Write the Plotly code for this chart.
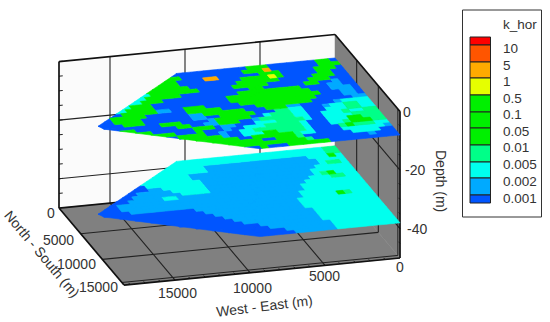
import numpy as np
import plotly.graph_objects as go

# ---- data -----------------------------------------------------------------
WE_TICKS = [0, 5000, 10000, 15000]
NS_TICKS = [0, 5000, 10000, 15000]
DEPTH_TICKS = [0, -20, -40]
WE_MINOR = list(range(1000, 18001, 1000))
DEPTH_MINOR = [-5, -10, -15, -25, -30, -35, -45]
WE_MAX, NS_MAX, DEPTH_MIN = 18400, 15000, -50
CELL_WE, CELL_NS = 460, 625
UPPER_DEPTH, LOWER_DEPTH = -8, -38
FOOT_NS = [0, 8400, 15000]
FOOT_WE = [10560, 18400, 9350]

LEVELS = ["0.001", "0.002", "0.005", "0.01", "0.05", "0.1", "0.5", "1", "5", "10"]
LEVEL_COLORS = ["#0055ff", "#00aaff", "#00ffee", "#00ff88", "#00f000", "#00f000",
                "#00f000", "#e6ff00", "#ffaa00", "#ff5500", "#ff0000"]

# class index per cell, one string per North-South row, West-East from 0
# 1 blue, 2 light blue, 3 cyan, 4 aqua, 5 green, 8 yellow, 9 orange
UPPER = [
    "155111111155511111111111",
    "5551111111955511111111155",
    "15551111155511111199111155",
    "115511111585555111111111555",
    "11555111115555551111111555555",
    "111555111111555551111155555553",
    "1121155111111551111111111555553",
    "11221111555555555111111111115553",
    "1222111555555555555111111111115553",
    "12211155555555555551111111111155553",
    "122111155555555555111115551122555551",
    "22111111555555551111155555111111555551",
    "333321111122555111555555221111111555511",
    "3344332111334411155555112211111115551111",
    "33443331113344431155555211115551111111",
    "443343331133444442115552211551111115",
    "4444333311344443331112215551111115",
    "44455333111344444333112111511155",
    "4455543311134444444331121155551",
    "33444541111344445533311255555",
    "233333311113345555551155555",
    "1133331111111455511555555",
    "11121111111145555555555",
    "111111111155555511151",
]
LOWER = [
    "443333333333333333333333",
    "4433333333333333333333333",
    "35333222222222222222333333",
    "333322222222222222223333333",
    "34432222222222222222222333333",
    "333332222222222222222223333333",
    "3333332222222222222222333333331",
    "33354322222222222222223333332211",
    "3344333222222222222222333332222211",
    "33333333222222222222223333222222211",
    "333333333222222222222222222332222211",
    "33333333322222222222222222222222222211",
    "333333333322222222222222222222222222111",
    "3334533333222222222222222222222222211111",
    "33333333333222222222222222111111111111",
    "333333333332222222222222211111111111",
    "3333333333322222222222221111111111",
    "33333333332222222222222111111111",
    "3333333333222222222222111111111",
    "33333333332222222222211111111",
    "333333333322222222211111111",
    "3333333332222222221111111",
    "33333333322222221111111",
    "333333333222222111111",
]
LEGEND_TOP_TO_BOTTOM = LEVEL_COLORS[::-1]


# ---- oblique projection of the box (data -> page pixels) -------------------
def px(we, ns, z):
    n = ns / NS_MAX - 1
    u = 400 - 0.015 * we + 65 * n
    v = 258 + 0.00147 * we + 77 * n - (z - DEPTH_MIN) * 2.93
    return u, v


def poly(points):
    xs, ys = [], []
    for p in points:
        u, v = px(*p)
        xs.append(u)
        ys.append(v)
    return xs, ys


fig = go.Figure()


def filled(points, color):
    xs, ys = poly(points)
    fig.add_trace(go.Scatter(x=xs + xs[:1], y=ys + ys[:1], mode="lines", fill="toself",
                             fillcolor=color, line=dict(color=color, width=0.5), hoverinfo="skip"))


def segments(segs, color, width):
    xs, ys = [], []
    for a, b in segs:
        xa, ya = px(*a)
        xb, yb = px(*b)
        xs += [xa, xb, None]
        ys += [ya, yb, None]
    fig.add_trace(go.Scatter(x=xs, y=ys, mode="lines", line=dict(color=color, width=width),
                             hoverinfo="skip"))


TOP = 0
# walls
filled([(WE_MAX, 0, DEPTH_MIN), (0, 0, DEPTH_MIN), (0, 0, TOP), (WE_MAX, 0, TOP)], "#fbfbfb")
filled([(0, 0, DEPTH_MIN), (0, NS_MAX, DEPTH_MIN), (0, NS_MAX, TOP), (0, 0, TOP)], "#808080")
filled([(WE_MAX, 0, DEPTH_MIN), (0, 0, DEPTH_MIN), (0, NS_MAX, DEPTH_MIN), (WE_MAX, NS_MAX, DEPTH_MIN)], "#808080")

grid = []
for w in WE_TICKS[1:]:
    grid.append(((w, 0, DEPTH_MIN), (w, 0, TOP)))
    grid.append(((w, 0, DEPTH_MIN), (w, NS_MAX, DEPTH_MIN)))
for n in NS_TICKS[1:3]:
    grid.append(((0, n, DEPTH_MIN), (0, n, TOP)))
    grid.append(((0, n, DEPTH_MIN), (WE_MAX, n, DEPTH_MIN)))
for d in DEPTH_TICKS[1:]:
    grid.append(((WE_MAX, 0, d), (0, 0, d)))
    grid.append(((0, 0, d), (0, NS_MAX, d)))
segments(grid, "#222222", 1.1)

ticks = [((WE_MAX, 14500, DEPTH_MIN), (0, 14500, DEPTH_MIN)),
         ((0, 14500, DEPTH_MIN), (0, 14500, TOP))]
for w in WE_MINOR:
    ticks.append(((w, NS_MAX, DEPTH_MIN), (w, NS_MAX - 300, DEPTH_MIN)))
for d in DEPTH_MINOR + DEPTH_TICKS:
    ticks.append(((WE_MAX, 0, d), (WE_MAX - 250, 0, d)))
    ticks.append(((0, NS_MAX, d), (0, NS_MAX - 300, d)))
segments(ticks, "#222222", 1)

segments([((WE_MAX, 0, TOP), (0, 0, TOP)), ((0, 0, TOP), (0, NS_MAX, TOP)),
          ((WE_MAX, 0, TOP), (WE_MAX, 0, DEPTH_MIN)),
          ((WE_MAX, 0, DEPTH_MIN), (WE_MAX, NS_MAX, DEPTH_MIN)),
          ((WE_MAX, NS_MAX, DEPTH_MIN), (0, NS_MAX, DEPTH_MIN)),
          ((WE_MAX, 0, DEPTH_MIN), (0, 0, DEPTH_MIN)),
          ((0, NS_MAX, DEPTH_MIN), (0, NS_MAX, TOP))], "#111111", 1.7)


def surface(rows, depth):
    for cls in sorted({c for r in rows for c in r}):
        xs, ys = [], []
        for j, row in enumerate(rows):
            n0, n1 = j * CELL_NS, (j + 1) * CELL_NS
            e0, e1 = np.interp([n0, n1], FOOT_NS, FOOT_WE)
            for i, c in enumerate(row):
                if c != cls:
                    continue
                w0 = i * CELL_WE
                # the outermost cell of a row ends on the survey outline
                a1 = e0 if i == len(row) - 1 else (i + 1) * CELL_WE
                b1 = e1 if i == len(row) - 1 else (i + 1) * CELL_WE
                a, b = poly([(w0, n0, depth), (a1, n0, depth), (b1, n1, depth), (w0, n1, depth)])
                xs += a + a[:1] + [None]
                ys += b + b[:1] + [None]
        col = LEVEL_COLORS[int(cls) - 1]
        fig.add_trace(go.Scatter(x=xs, y=ys, mode="lines", fill="toself", fillcolor=col,
                                 line=dict(color=col, width=0.6), hoverinfo="skip"))


surface(LOWER, LOWER_DEPTH)
surface(UPPER, UPPER_DEPTH)

TXT = "#333333"
FONT = "Liberation Sans"
ann = []


def label(x, y, text, size=14, angle=0, color=TXT):
    ann.append(dict(x=x, y=y, text=text, showarrow=False, textangle=angle, xref="x", yref="y",
                    font=dict(family=FONT, size=size, color=color), xanchor="center", yanchor="middle"))


for w, dx, dy in zip(WE_TICKS, [0, -1, 2, 2], [9, 11, 15, 13]):
    u, v = px(w, NS_MAX, DEPTH_MIN)
    label(u + dx, v + dy, str(w))
for n, dx, dy in zip(NS_TICKS, [-8, -22, -26, -26], [5, 6, 5, 2]):
    u, v = px(WE_MAX, n, DEPTH_MIN)
    label(u + dx, v + dy, str(n))
for d, dx in zip(DEPTH_TICKS, [7, 15, 17]):
    u, v = px(0, NS_MAX, d)
    label(u + dx, v, str(d))
label(42, 254, "North - South (m)", 14, 50)
label(264, 306, "West - East (m)", 14, -7)
label(441, 181, "Depth (m)", 14, 90)

# legend
shapes = [dict(type="rect", x0=462.5, x1=541.5, y0=10, y1=217, xref="x", yref="y",
               line=dict(color="#333333", width=1), fillcolor="white")]
edges = [37, 45, 62, 78, 95, 112, 128, 145, 162, 178, 195, 203]
for c, y0, y1 in zip(LEGEND_TOP_TO_BOTTOM, edges[:-1], edges[1:]):
    shapes.append(dict(type="rect", x0=470, x1=490.5, y0=y0, y1=y1, xref="x", yref="y",
                       line=dict(color="#222222", width=1), fillcolor=c, layer="above"))
ann.append(dict(x=501, y=24, text="k_hor", showarrow=False, xref="x", yref="y", xanchor="left",
                font=dict(family=FONT, size=13.5, color=TXT)))
for lab, y in zip(LEVELS[::-1], [48, 65, 81, 98, 114, 131, 147, 164, 181, 198]):
    ann.append(dict(x=501, y=y, text=lab, showarrow=False, xref="x", yref="y", xanchor="left",
                    font=dict(family=FONT, size=13.5, color=TXT)))

fig.update_layout(width=550, height=322, margin=dict(l=0, r=0, t=0, b=0), showlegend=False,
                  paper_bgcolor="white", plot_bgcolor="white", annotations=ann, shapes=shapes,
                  xaxis=dict(range=[0, 550], visible=False, fixedrange=True),
                  yaxis=dict(range=[322, 0], visible=False, fixedrange=True))
# drop the page's default body margin so the figure fills the window
fig.write_html("out.html", config=dict(displayModeBar=False),
               post_script="document.body.style.margin='0';document.documentElement.style.overflow='hidden';")
